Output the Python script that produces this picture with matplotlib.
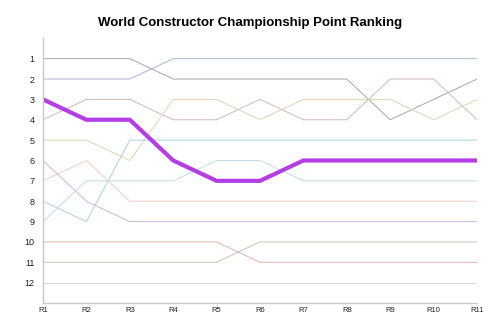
import matplotlib
matplotlib.use('Agg')
import matplotlib.pyplot as plt

rounds = ['R1', 'R2', 'R3', 'R4', 'R5', 'R6', 'R7', 'R8', 'R9', 'R10', 'R11']

# rank of each constructor after each round
team_a = [2, 2, 2, 1, 1, 1, 1, 1, 1, 1, 1]
team_b = [1, 1, 1, 2, 2, 2, 2, 2, 4, 3, 2]
team_c = [3, 4, 4, 6, 7, 7, 6, 6, 6, 6, 6]   # highlighted
team_d = [4, 3, 3, 4, 4, 3, 4, 4, 2, 2, 4]
team_e = [5, 5, 6, 3, 3, 4, 3, 3, 3, 4, 3]
team_f = [6, 8, 9, 9, 9, 9, 9, 9, 9, 9, 9]
team_g = [7, 6, 8, 8, 8, 8, 8, 8, 8, 8, 8]
team_h = [8, 9, 5, 5, 5, 5, 5, 5, 5, 5, 5]
team_i = [9, 7, 7, 7, 6, 6, 7, 7, 7, 7, 7]
team_j = [10, 10, 10, 10, 10, 11, 11, 11, 11, 11, 11]
team_k = [11, 11, 11, 11, 11, 10, 10, 10, 10, 10, 10]
team_l = [12, 12, 12, 12, 12, 12, 12, 12, 12, 12, 12]

background = [
    (team_a, '#a9b6d2'),
    (team_b, '#a6a6a6'),
    (team_d, '#d2b8b8'),
    (team_e, '#e2d4b4'),
    (team_f, '#c4b8de'),
    (team_g, '#f0cbc2'),
    (team_h, '#a9d3e3'),
    (team_i, '#bcdcec'),
    (team_j, '#e3b2ae'),
    (team_k, '#c4c4b4'),
    (team_l, '#dcd6e4'),
]

fig = plt.figure(figsize=(5, 3.33), dpi=100)
ax = fig.add_axes([0.086, 0.09, 0.868, 0.795])

x = list(range(len(rounds)))
for ranks, col in background:
    ax.plot(x, ranks, color=col, linewidth=0.7)
ax.plot(x, team_c, color='#b43de6', linewidth=3.0, solid_joinstyle='miter')

ax.set_xlim(0, len(rounds) - 1)
ax.set_ylim(13, 0)
ax.set_xticks(x)
ax.set_xticklabels(rounds)
ax.set_yticks(range(1, 13))

for side in ['top', 'right']:
    ax.spines[side].set_visible(False)
for side in ['left', 'bottom']:
    ax.spines[side].set_color('#c8c8c8')
    ax.spines[side].set_linewidth(1.0)

ax.tick_params(axis='both', length=0, colors='#222222')
ax.tick_params(axis='y', pad=6, labelsize=6.5)
ax.tick_params(axis='x', pad=3, labelsize=5.5)
for lbl in ax.get_xticklabels() + ax.get_yticklabels():
    lbl.set_family('Liberation Sans')

fig.text(0.5, 0.932, 'World Constructor Championship Point Ranking',
         ha='center', va='center', fontsize=9.5, fontweight='bold',
         family='Liberation Sans')

fig.savefig('out.png', dpi=100)
